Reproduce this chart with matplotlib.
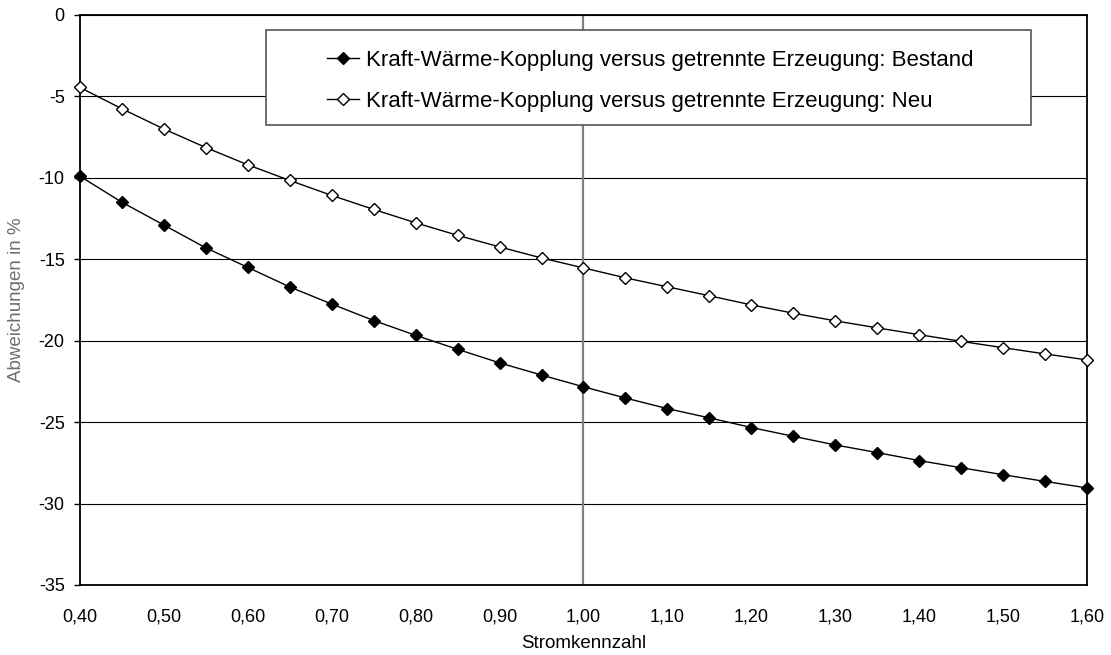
import matplotlib.pyplot as plt
from matplotlib.patches import Rectangle

plt.rcParams['font.family'] = ['Liberation Sans', 'DejaVu Sans']

# Stromkennzahl 0,40 ... 1,60 in Schritten von 0,05
stromkennzahl = [0.40, 0.45, 0.50, 0.55, 0.60, 0.65, 0.70, 0.75, 0.80, 0.85,
                 0.90, 0.95, 1.00, 1.05, 1.10, 1.15, 1.20, 1.25, 1.30, 1.35,
                 1.40, 1.45, 1.50, 1.55, 1.60]

bestand = [-9.9, -11.5, -12.9, -14.3, -15.5, -16.7, -17.75, -18.76, -19.67, -20.53,
           -21.36, -22.11, -22.83, -23.52, -24.17, -24.74, -25.33, -25.87, -26.40, -26.87,
           -27.36, -27.80, -28.23, -28.64, -29.04]

neu = [-4.45, -5.76, -7.0, -8.14, -9.2, -10.16, -11.08, -11.94, -12.76, -13.53,
       -14.24, -14.92, -15.53, -16.14, -16.69, -17.24, -17.80, -18.31, -18.78, -19.21,
       -19.63, -20.04, -20.43, -20.81, -21.18]

xticks = [0.40, 0.50, 0.60, 0.70, 0.80, 0.90, 1.00, 1.10, 1.20, 1.30, 1.40, 1.50, 1.60]
xlabels = ['0,40', '0,50', '0,60', '0,70', '0,80', '0,90', '1,00',
           '1,10', '1,20', '1,30', '1,40', '1,50', '1,60']
yticks = [0, -5, -10, -15, -20, -25, -30, -35]

fig = plt.figure(figsize=(11.11, 6.55), dpi=100)
ax = fig.add_axes([0.072, 0.1069, 0.9064, 0.8702])

# Gitterlinien
for y in yticks:
    ax.axhline(y, color='black', linewidth=0.8, zorder=1)
ax.axvline(1.00, color='#808080', linewidth=1.6, zorder=1)

ax.plot(stromkennzahl, bestand, color='black', linewidth=1, marker='D',
        markersize=6.5, markerfacecolor='black', markeredgecolor='black',
        label='Kraft-Wärme-Kopplung versus getrennte Erzeugung: Bestand',
        zorder=3, clip_on=False)
ax.plot(stromkennzahl, neu, color='black', linewidth=1, marker='D',
        markersize=6.5, markerfacecolor='white', markeredgecolor='black',
        label='Kraft-Wärme-Kopplung versus getrennte Erzeugung: Neu',
        zorder=3, clip_on=False)

ax.set_xlim(0.40, 1.60)
ax.set_ylim(-35, 0)
ax.set_xticks(xticks)
ax.set_xticklabels(xlabels, fontsize=13)
ax.set_yticks(yticks)
ax.set_yticklabels([str(y) for y in yticks], fontsize=13)
ax.tick_params(axis='x', length=0, pad=17)
ax.tick_params(axis='y', length=4.5, width=1, direction='out', pad=6.5)

for s in ax.spines.values():
    s.set_linewidth(1.3)
    s.set_color('black')

ax.set_xlabel('Stromkennzahl', fontsize=13.5)
ax.xaxis.set_label_coords(0.5, -0.088)
ax.set_ylabel('Abweichungen in %', fontsize=13.5, color='#6e6e6e')
ax.yaxis.set_label_coords(-0.055, 0.5)

# Legendenrahmen (breiter als der Inhalt, wie im Original)
ax.add_patch(Rectangle((0.1847, 0.807), 0.7597, 0.1667, transform=ax.transAxes,
                       facecolor='white', edgecolor='#555555', linewidth=1.2,
                       zorder=4))
leg = ax.legend(loc='center left', bbox_to_anchor=(0.2453, 0.8842), fontsize=16,
                frameon=False, borderpad=0, borderaxespad=0,
                handlelength=1.44, handletextpad=0.32, labelspacing=0.9)
leg.set_zorder(5)

fig.savefig('out.png', dpi=100)
